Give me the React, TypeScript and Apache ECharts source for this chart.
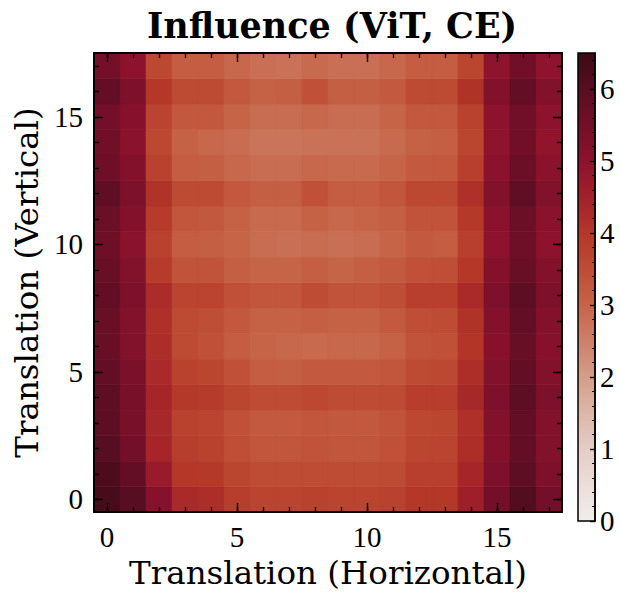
import React, { useEffect, useRef } from 'react';
import * as echarts from 'echarts';

// Influence per (horizontal, vertical) translation; row index = vertical shift (0 at bottom).
const influence: number[][] = [
  [6.3, 6.0, 5.1, 4.3, 4.2, 3.85, 3.7, 3.7, 3.75, 3.7, 3.7, 3.75, 4.0, 4.0, 4.6, 5.5, 6.1, 5.5],
  [6.2, 5.8, 4.7, 4.0, 3.95, 3.65, 3.5, 3.5, 3.5, 3.5, 3.5, 3.55, 3.8, 3.8, 4.4, 5.3, 5.9, 5.3],
  [6.0, 5.5, 4.4, 3.85, 3.75, 3.45, 3.3, 3.3, 3.35, 3.3, 3.3, 3.4, 3.65, 3.7, 4.2, 5.15, 5.8, 5.2],
  [5.9, 5.4, 4.35, 3.75, 3.7, 3.4, 3.2, 3.2, 3.3, 3.25, 3.25, 3.35, 3.6, 3.65, 4.15, 5.2, 5.8, 5.2],
  [5.9, 5.4, 4.4, 3.95, 3.9, 3.65, 3.5, 3.5, 3.6, 3.5, 3.5, 3.55, 3.85, 3.85, 4.35, 5.3, 5.9, 5.3],
  [5.8, 5.35, 4.3, 3.75, 3.65, 3.4, 3.15, 3.1, 3.2, 3.2, 3.2, 3.3, 3.55, 3.6, 4.2, 5.2, 5.8, 5.2],
  [5.7, 5.2, 4.2, 3.55, 3.4, 3.15, 3.0, 2.95, 2.9, 2.95, 2.95, 3.05, 3.35, 3.4, 4.05, 5.1, 5.75, 5.1],
  [5.7, 5.2, 4.15, 3.55, 3.45, 3.25, 3.05, 3.05, 3.1, 3.05, 3.05, 3.2, 3.45, 3.5, 4.1, 5.15, 5.8, 5.15],
  [5.8, 5.3, 4.25, 3.7, 3.7, 3.4, 3.3, 3.3, 3.5, 3.35, 3.35, 3.45, 3.8, 3.8, 4.3, 5.3, 5.9, 5.3],
  [5.7, 5.2, 3.9, 3.35, 3.35, 3.1, 3.0, 3.0, 3.1, 3.0, 3.1, 3.2, 3.4, 3.45, 4.0, 5.15, 5.7, 5.15],
  [5.6, 5.05, 3.75, 3.15, 3.1, 3.0, 2.85, 2.8, 2.85, 2.8, 2.85, 3.0, 3.2, 3.15, 3.8, 5.0, 5.6, 5.0],
  [5.65, 5.15, 3.9, 3.3, 3.25, 3.05, 2.9, 2.9, 3.05, 2.95, 3.0, 3.1, 3.35, 3.35, 3.95, 5.05, 5.65, 5.05],
  [5.85, 5.3, 4.1, 3.55, 3.55, 3.25, 3.1, 3.1, 3.4, 3.15, 3.15, 3.3, 3.6, 3.6, 4.15, 5.2, 5.85, 5.2],
  [5.6, 5.15, 3.75, 3.15, 3.1, 2.95, 2.85, 2.85, 2.95, 2.9, 2.9, 3.0, 3.2, 3.25, 3.8, 5.05, 5.65, 5.05],
  [5.55, 5.05, 3.6, 3.05, 2.95, 2.85, 2.7, 2.7, 2.75, 2.75, 2.75, 2.9, 3.05, 3.1, 3.65, 4.95, 5.55, 4.9],
  [5.5, 5.1, 3.7, 3.25, 3.25, 3.0, 2.85, 2.85, 2.95, 2.85, 2.85, 3.0, 3.25, 3.25, 3.75, 5.0, 5.55, 5.0],
  [5.8, 5.3, 4.0, 3.55, 3.55, 3.25, 3.05, 3.1, 3.4, 3.1, 3.1, 3.2, 3.55, 3.55, 4.1, 5.2, 5.8, 5.2],
  [5.5, 5.0, 3.6, 3.15, 3.15, 2.95, 2.8, 2.75, 2.9, 2.8, 2.8, 2.95, 3.15, 3.15, 3.65, 4.95, 5.55, 4.95],
];

const xTickLabels = [0, 5, 10, 15];
const yTickLabels = [0, 5, 10, 15];
const colorbarTicks = [0, 1, 2, 3, 4, 5, 6];
const colorbarMax = 6.5;

// sequential "amp"-style colormap, evenly spaced every 0.5 from 0 to 6.5
const ampColors = [
  '#f1edec', '#ebded9', '#e4cdc6', '#ddb6a8', '#d49d89', '#cd8068',
  '#c66448', '#be4c34', '#b43728', '#a22129', '#8c122d', '#730f28',
  '#580e22', '#3c0a14',
];

const SERIF = '"Liberation Serif", "Times New Roman", serif';
const WIDE_SERIF = '"DejaVu Serif", "Liberation Serif", serif';
const BLACK = '#000';

const PLOT = { left: 94, top: 53, width: 468, height: 468 };
const CBAR = { left: 578, top: 53, width: 17, height: 468 };

export default function App() {
  const ref = useRef<HTMLDivElement>(null);

  useEffect(() => {
    if (!ref.current) return;
    const chart = echarts.init(ref.current, undefined, { renderer: 'svg' });

    const nRows = influence.length;
    const nCols = influence[0].length;
    const cells: number[][] = [];
    influence.forEach((row, y) => row.forEach((v, x) => cells.push([x, y, v])));

    const colIdx = influence[0].map((_, i) => i);
    const rowIdx = influence.map((_, i) => i);
    const cbarMinor: number[] = [];
    for (let i = 0; i * 0.2 < colorbarMax - 1e-9; i++) cbarMinor.push(+(i * 0.2).toFixed(1));

    const tickStyle = { color: BLACK, width: 1.4 };
    const labelStyle = { color: BLACK, fontFamily: SERIF, fontSize: 29 };
    const noLine = { show: false, onZero: false };
    const frameLine = { show: true, onZero: false, lineStyle: { color: BLACK, width: 2 } };

    const mkAxis = (
      pos: string,
      extent: [number, number],
      ticks: number[],
      len: number,
      opts: any = {},
    ) => ({
      type: 'value',
      gridIndex: 0,
      position: pos,
      min: extent[0],
      max: extent[1],
      z: 10,
      splitLine: { show: false },
      axisLine: noLine,
      axisTick: { show: true, inside: true, length: len, customValues: ticks, lineStyle: tickStyle },
      axisLabel: { show: false },
      ...opts,
    });

    const xExt: [number, number] = [-0.5, nCols - 0.5];
    const yExt: [number, number] = [-0.5, nRows - 0.5];
    const nameStyle = { fontFamily: WIDE_SERIF, fontSize: 32.5, color: BLACK };

    chart.setOption({
      animation: false,
      backgroundColor: '#fff',
      title: {
        text: 'Influence (ViT, CE)',
        left: 327,
        top: 3,
        textAlign: 'center',
        textStyle: { fontFamily: WIDE_SERIF, fontWeight: 'bold', fontSize: 35, color: BLACK },
      },
      grid: [
        { ...PLOT, show: false },
        { ...CBAR, show: false },
      ],
      xAxis: [
        mkAxis('bottom', xExt, xTickLabels, 9, {
          axisLine: frameLine,
          axisLabel: { show: true, customValues: xTickLabels, margin: 10, ...labelStyle },
          name: 'Translation (Horizontal)',
          nameLocation: 'middle',
          nameGap: 35,
          nameTextStyle: nameStyle,
        }),
        mkAxis('bottom', xExt, colIdx, 5),
        mkAxis('top', xExt, xTickLabels, 9, { axisLine: frameLine }),
        mkAxis('top', xExt, colIdx, 5),
        { type: 'value', gridIndex: 1, show: false, min: 0, max: 1 },
      ],
      yAxis: [
        mkAxis('left', yExt, yTickLabels, 9, {
          axisLine: frameLine,
          axisLabel: { show: true, customValues: yTickLabels, margin: 11, ...labelStyle },
          name: 'Translation (Vertical)',
          nameLocation: 'middle',
          nameGap: 45,
          nameTextStyle: nameStyle,
        }),
        mkAxis('left', yExt, rowIdx, 5),
        mkAxis('right', yExt, yTickLabels, 9, { axisLine: frameLine }),
        mkAxis('right', yExt, rowIdx, 5),
        {
          type: 'value',
          gridIndex: 1,
          position: 'right',
          min: 0,
          max: colorbarMax,
          z: 10,
          splitLine: { show: false },
          axisLine: { show: true, onZero: false, lineStyle: { color: BLACK, width: 1.5 } },
          axisTick: { show: true, inside: true, length: 5, customValues: colorbarTicks, lineStyle: tickStyle },
          axisLabel: { show: true, customValues: colorbarTicks, margin: 5, ...labelStyle },
        },
        {
          type: 'value',
          gridIndex: 1,
          position: 'right',
          min: 0,
          max: colorbarMax,
          z: 10,
          splitLine: { show: false },
          axisLine: noLine,
          axisTick: { show: true, inside: true, length: 3, customValues: cbarMinor, lineStyle: { color: BLACK, width: 1 } },
          axisLabel: { show: false },
        },
      ],
      visualMap: {
        type: 'continuous',
        show: false,
        min: 0,
        max: colorbarMax,
        dimension: 2,
        seriesIndex: 0,
        inRange: { color: ampColors },
      },
      graphic: [
        {
          type: 'rect',
          z: 1,
          shape: { x: CBAR.left, y: CBAR.top, width: CBAR.width, height: CBAR.height },
          style: {
            fill: new echarts.graphic.LinearGradient(
              0, 1, 0, 0,
              ampColors.map((c, i) => ({ offset: i / (ampColors.length - 1), color: c })),
            ),
          },
        },
        {
          type: 'rect',
          z: 3,
          shape: { x: CBAR.left, y: CBAR.top, width: CBAR.width, height: CBAR.height },
          style: { fill: 'none', stroke: BLACK, lineWidth: 1.5 },
        },
      ],
      series: [
        {
          type: 'custom',
          xAxisIndex: 0,
          yAxisIndex: 0,
          encode: { x: 0, y: 1 },
          data: cells,
          renderItem: (_params: any, api: any) => {
            const x = api.value(0);
            const y = api.value(1);
            const p0 = api.coord([x - 0.5, y + 0.5]);
            const p1 = api.coord([x + 0.5, y - 0.5]);
            const c = api.visual('color');
            return {
              type: 'rect',
              shape: { x: p0[0], y: p0[1], width: p1[0] - p0[0], height: p1[1] - p0[1] },
              style: { fill: c, stroke: c, lineWidth: 0.6 },
            };
          },
          z: 1,
        },
      ],
    });

    return () => chart.dispose();
  }, []);

  return (
    <div
      ref={ref}
      style={{ position: 'fixed', left: 0, top: 0, width: 620, height: 594 }}
    />
  );
}
